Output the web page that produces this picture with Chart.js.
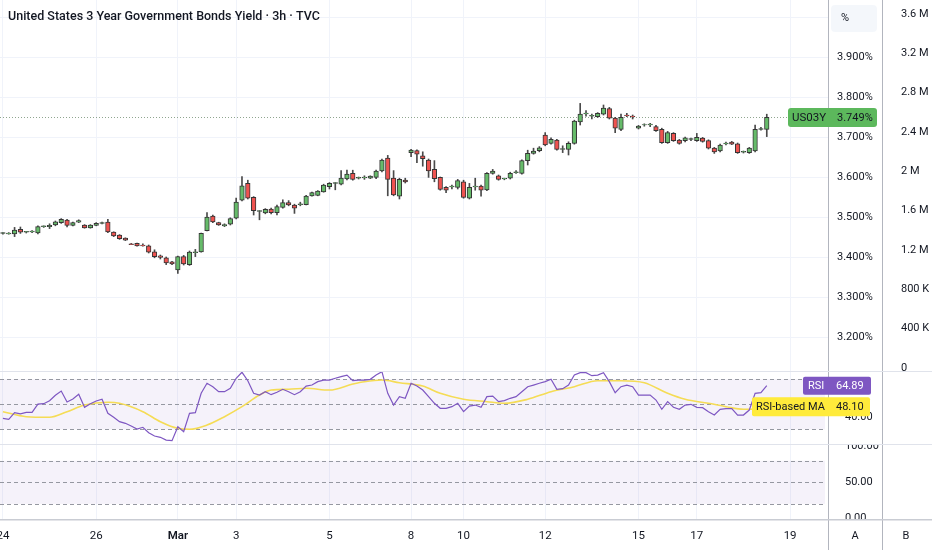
<!DOCTYPE html>
<html>
<head>
<meta charset="utf-8">
<title>US03Y 3h</title>
<script src="https://cdn.jsdelivr.net/npm/chart.js@4.4.1/dist/chart.umd.min.js"></script>
<style>
  html, body { margin: 0; padding: 0; background: #ffffff; }
  #wrap { position: relative; width: 932px; height: 550px; overflow: hidden; }
  .pane { position: absolute; left: 0; width: 932px; }
</style>
</head>
<body>
<div id="wrap">
  <div class="pane" style="top:0;height:371px"><canvas id="mainChart"></canvas></div>
  <div class="pane" style="top:371px;height:73px"><canvas id="rsiChart"></canvas></div>
  <div class="pane" style="top:444px;height:106px"><canvas id="lowChart"></canvas></div>
</div>
<script>
// ---- data (3h bars, 132 candles) ----
const opens = [
  3.459, 3.458, 3.458, 3.469, 3.462, 3.463, 3.460, 3.476, 3.476, 3.480,
  3.486, 3.492, 3.479, 3.487, 3.480, 3.473, 3.479, 3.484, 3.487, 3.462,
  3.455, 3.447, 3.433, 3.434, 3.430, 3.428, 3.413, 3.403, 3.398, 3.388,
  3.368, 3.401, 3.381, 3.411, 3.413, 3.466, 3.502, 3.486, 3.478, 3.482,
  3.497, 3.542, 3.584, 3.549, 3.514, 3.510, 3.520, 3.511, 3.524, 3.536,
  3.530, 3.531, 3.531, 3.553, 3.554, 3.563, 3.576, 3.584, 3.582, 3.595,
  3.609, 3.597, 3.598, 3.597, 3.599, 3.615, 3.647, 3.597, 3.552, 3.592,
  3.661, 3.666, 3.653, 3.642, 3.619, 3.599, 3.574, 3.575, 3.574, 3.588,
  3.547, 3.575, 3.577, 3.568, 3.609, 3.603, 3.595, 3.597, 3.611, 3.609,
  3.641, 3.659, 3.666, 3.705, 3.684, 3.692, 3.669, 3.669, 3.684, 3.738,
  3.758, 3.752, 3.751, 3.757, 3.771, 3.747, 3.719, 3.755, 3.752, 3.722,
  3.730, 3.730, 3.726, 3.719, 3.686, 3.709, 3.692, 3.691, 3.694, 3.691,
  3.697, 3.691, 3.672, 3.665, 3.683, 3.687, 3.683, 3.662, 3.661, 3.665,
  3.719, 3.719
];
const highs = [
  3.461, 3.461, 3.474, 3.475, 3.464, 3.466, 3.478, 3.478, 3.483, 3.490,
  3.496, 3.494, 3.487, 3.493, 3.481, 3.481, 3.486, 3.487, 3.494, 3.463,
  3.456, 3.448, 3.434, 3.435, 3.433, 3.430, 3.418, 3.405, 3.400, 3.389,
  3.402, 3.404, 3.415, 3.419, 3.460, 3.511, 3.505, 3.487, 3.483, 3.498,
  3.547, 3.601, 3.592, 3.551, 3.516, 3.521, 3.522, 3.530, 3.543, 3.541,
  3.532, 3.537, 3.554, 3.562, 3.566, 3.582, 3.586, 3.586, 3.616, 3.617,
  3.617, 3.600, 3.603, 3.603, 3.617, 3.645, 3.654, 3.616, 3.597, 3.597,
  3.669, 3.668, 3.663, 3.645, 3.641, 3.600, 3.576, 3.580, 3.594, 3.592,
  3.584, 3.597, 3.580, 3.611, 3.619, 3.605, 3.597, 3.612, 3.616, 3.643,
  3.667, 3.672, 3.676, 3.711, 3.698, 3.694, 3.678, 3.688, 3.742, 3.784,
  3.766, 3.757, 3.761, 3.780, 3.774, 3.749, 3.757, 3.759, 3.755, 3.729,
  3.733, 3.734, 3.729, 3.722, 3.714, 3.711, 3.694, 3.700, 3.697, 3.709,
  3.699, 3.693, 3.674, 3.682, 3.687, 3.689, 3.685, 3.665, 3.674, 3.730,
  3.724, 3.757
];
const lows = [
  3.457, 3.457, 3.451, 3.459, 3.460, 3.461, 3.458, 3.474, 3.471, 3.478,
  3.484, 3.475, 3.478, 3.486, 3.472, 3.472, 3.478, 3.483, 3.461, 3.451,
  3.444, 3.441, 3.431, 3.427, 3.427, 3.410, 3.398, 3.395, 3.381, 3.381,
  3.359, 3.380, 3.379, 3.401, 3.412, 3.465, 3.486, 3.479, 3.476, 3.480,
  3.495, 3.540, 3.545, 3.505, 3.493, 3.508, 3.508, 3.505, 3.522, 3.528,
  3.509, 3.528, 3.530, 3.552, 3.553, 3.562, 3.570, 3.568, 3.580, 3.593,
  3.592, 3.595, 3.594, 3.596, 3.596, 3.613, 3.553, 3.553, 3.545, 3.585,
  3.651, 3.636, 3.627, 3.599, 3.588, 3.567, 3.561, 3.570, 3.570, 3.547,
  3.545, 3.567, 3.552, 3.566, 3.607, 3.592, 3.593, 3.595, 3.609, 3.607,
  3.630, 3.657, 3.663, 3.678, 3.682, 3.667, 3.661, 3.655, 3.682, 3.730,
  3.752, 3.745, 3.749, 3.755, 3.745, 3.711, 3.716, 3.751, 3.745, 3.720,
  3.727, 3.726, 3.714, 3.684, 3.684, 3.689, 3.682, 3.688, 3.691, 3.689,
  3.687, 3.670, 3.659, 3.663, 3.680, 3.681, 3.659, 3.660, 3.659, 3.663,
  3.717, 3.701
];
const closes = [
  3.461, 3.460, 3.467, 3.462, 3.464, 3.465, 3.476, 3.478, 3.479, 3.488,
  3.494, 3.479, 3.486, 3.491, 3.473, 3.480, 3.484, 3.486, 3.463, 3.453,
  3.446, 3.442, 3.431, 3.428, 3.428, 3.412, 3.401, 3.399, 3.385, 3.383,
  3.401, 3.383, 3.412, 3.413, 3.459, 3.500, 3.488, 3.480, 3.481, 3.496,
  3.537, 3.578, 3.547, 3.516, 3.516, 3.519, 3.511, 3.526, 3.536, 3.530,
  3.522, 3.533, 3.552, 3.561, 3.565, 3.580, 3.584, 3.586, 3.597, 3.607,
  3.594, 3.599, 3.600, 3.602, 3.615, 3.642, 3.594, 3.555, 3.594, 3.588,
  3.667, 3.657, 3.646, 3.615, 3.596, 3.569, 3.567, 3.577, 3.591, 3.549,
  3.574, 3.577, 3.567, 3.609, 3.615, 3.594, 3.597, 3.609, 3.613, 3.641,
  3.659, 3.665, 3.673, 3.680, 3.694, 3.669, 3.671, 3.684, 3.740, 3.757,
  3.760, 3.754, 3.759, 3.772, 3.747, 3.722, 3.749, 3.753, 3.750, 3.727,
  3.731, 3.732, 3.716, 3.686, 3.711, 3.691, 3.684, 3.698, 3.696, 3.699,
  3.689, 3.672, 3.663, 3.680, 3.685, 3.682, 3.661, 3.664, 3.672, 3.719,
  3.721, 3.749
];

const rsiValues = [
  38.8, 38.0, 43.3, 42.3, 43.6, 43.6, 50.2, 50.5, 52.9, 57.2,
  60.6, 51.8, 54.2, 58.0, 47.6, 50.5, 52.6, 54.0, 42.8, 39.6,
  36.1, 34.8, 32.6, 30.2, 31.6, 27.3, 24.6, 23.6, 21.4, 20.9,
  32.1, 28.1, 42.8, 43.3, 58.8, 66.8, 64.1, 60.1, 60.1, 62.8,
  70.8, 75.6, 68.9, 58.8, 57.4, 60.1, 57.7, 59.6, 62.0, 60.1,
  57.7, 60.1, 64.6, 65.4, 68.1, 69.4, 69.4, 70.8, 72.1, 73.4,
  68.9, 69.4, 69.4, 70.0, 73.4, 76.1, 58.8, 49.4, 56.1, 54.8,
  66.8, 64.6, 61.4, 56.1, 50.8, 46.8, 46.8, 48.1, 50.8, 44.1,
  48.6, 49.4, 47.6, 56.1, 56.6, 52.1, 52.9, 54.8, 56.1, 60.1,
  64.1, 65.4, 66.8, 68.1, 70.0, 62.0, 62.5, 65.4, 73.4, 75.3,
  75.3, 72.9, 73.4, 75.3, 68.1, 59.3, 64.1, 65.4, 64.1, 57.4,
  57.4, 57.4, 53.4, 46.0, 52.1, 47.6, 46.0, 49.4, 50.0, 47.6,
  47.3, 44.1, 41.4, 46.0, 46.5, 46.5, 41.4, 41.4, 45.4, 58.8,
  59.3, 64.89
];
// RSI-based MA, read at these bar positions
const maIndex = [0, 4, 8, 11, 14, 18, 20, 24, 27, 30, 32, 35, 38, 41, 44, 46, 49, 52, 56, 60,
  62, 65, 68, 72, 75, 79, 83, 86, 90, 94, 98, 102, 106, 110, 114, 117, 121, 124, 127, 129, 131];
const maValues = [44.1, 40.1, 39.6, 44.1, 49.4, 51.6, 50.8, 44.1, 36.1, 30.8, 30.0, 33.4, 40.1, 48.1, 57.4, 61.4, 62.0, 62.8, 61.4, 66.2,
  68.1, 69.4, 67.3, 64.6, 58.8, 54.0, 52.1, 50.8, 54.0, 60.1, 64.1, 68.9, 68.9, 67.3, 58.8, 54.0, 50.8, 48.1, 46.0, 46.2, 48.1];

// x axis: 142 bar slots across the pane, dates shown at these slots
const slotCount = 142;
const dateSlots = [0, 16, 30, 40, 56, 70, 79, 93, 109, 119, 135];
const dateText = ['24', '26', 'Mar', '3', '5', '8', '10', '12', '15', '17', '19'];

const priceTicks = [3.2, 3.3, 3.4, 3.5, 3.6, 3.7, 3.8, 3.9, 4.0];
const volTicks = [0, 400000, 800000, 1200000, 1600000, 2000000, 2400000, 2800000, 3200000, 3600000];
const volText = ['0', '400 K', '800 K', '1.2 M', '1.6 M', '2 M', '2.4 M', '2.8 M', '3.2 M', '3.6 M'];
const rsiTicks = [40];
const lowTicks = [0, 50, 100];
const lowText = ['0.00', '50.00', '100.00'];

const lastPrice = 3.749;
const lastRsi = 64.89;
const lastMa = 48.10;

// ---- styling ----
const FONT = "Roboto, 'Noto Sans', sans-serif";
const TEXT = '#131722';
const GRID = '#f0f3fa';
const SEP = '#e0e3eb';
const AXIS_SEP = '#b2b5be';
const UP = '#66bb6a';
const DOWN = '#ef5350';
const CANDLE_EDGE = '#353535';
const RSI_COLOR = '#7e57c2';
const MA_COLOR = '#f5dc55';
const BAND = 'rgba(126, 87, 194, 0.08)';

const slotLabels = Array.from({ length: slotCount }, () => '');
dateSlots.forEach((k, j) => { slotLabels[k] = dateText[j]; });

const maSeries = Array.from({ length: closes.length }, () => null);
maIndex.forEach((k, j) => { maSeries[k] = maValues[j]; });

function xScale(showLabels) {
  return {
    type: 'category',
    labels: slotLabels,
    offset: true,
    border: { display: false },
    grid: {
      offset: false,
      drawTicks: false,
      color: (c) => (slotLabels[c.index] ? GRID : 'rgba(0,0,0,0)'),
    },
    ticks: {
      display: showLabels,
      autoSkip: false,
      maxRotation: 0,
      padding: 10,
      color: TEXT,
      font: (c) => ({ family: FONT, size: 11.5, weight: slotLabels[c.index] === 'Mar' ? '600' : '400' }),
      callback: (v, i) => slotLabels[i],
    },
    afterFit: (s) => {
      s.height = showLabels ? 31 : 0;
      s.paddingLeft = 0;
      s.paddingRight = 0;
    },
  };
}

function fixedTicks(values) {
  return (s) => { s.ticks = values.map((v) => ({ value: v })); };
}

function noPad(width) {
  return (s) => { s.width = width; s.paddingTop = 0; s.paddingBottom = 0; };
}

function box(ctx, x, y, w, h, fill, r) {
  ctx.fillStyle = fill;
  ctx.beginPath();
  if (ctx.roundRect) ctx.roundRect(x, y, w, h, r); else ctx.rect(x, y, w, h);
  ctx.fill();
}

function separators(ctx, h) {
  ctx.save();
  ctx.strokeStyle = AXIS_SEP;
  ctx.lineWidth = 1;
  ctx.beginPath();
  ctx.moveTo(828.5, 0); ctx.lineTo(828.5, h);
  ctx.moveTo(882.5, 0); ctx.lineTo(882.5, h);
  ctx.stroke();
  ctx.restore();
}

function bandAndLevels(chart, lo, mid, hi) {
  const { ctx, chartArea } = chart;
  const y = chart.scales.y;
  ctx.save();
  ctx.fillStyle = BAND;
  ctx.fillRect(chartArea.left, y.getPixelForValue(hi), chartArea.right - chartArea.left - 3,
    y.getPixelForValue(lo) - y.getPixelForValue(hi));
  ctx.strokeStyle = '#9598a1';
  ctx.lineWidth = 1;
  ctx.setLineDash([4, 3]);
  [lo, mid, hi].forEach((v) => {
    const py = Math.round(y.getPixelForValue(v)) + 0.5;
    ctx.beginPath();
    ctx.moveTo(chartArea.left, py);
    ctx.lineTo(chartArea.right - 3, py);
    ctx.stroke();
  });
  ctx.restore();
}

const common = {
  responsive: true,
  maintainAspectRatio: false,
  animation: false,
  events: [],
  plugins: { legend: { display: false }, tooltip: { enabled: false } },
};

// ---- main price pane ----
const mainPlugin = {
  id: 'mainDecor',
  beforeDatasetsDraw(chart) {
    const { ctx } = chart;
    const py = Math.round(chart.scales.y.getPixelForValue(lastPrice)) + 0.5;
    ctx.save();
    ctx.strokeStyle = '#8fa58f';
    ctx.lineWidth = 1;
    ctx.setLineDash([1, 2]);
    ctx.beginPath();
    ctx.moveTo(0, py);
    ctx.lineTo(788, py);
    ctx.stroke();
    ctx.restore();
  },
  afterDraw(chart) {
    const { ctx } = chart;
    separators(ctx, chart.height);
    ctx.save();
    ctx.textBaseline = 'middle';
    ctx.fillStyle = TEXT;
    ctx.font = '500 12.5px ' + FONT;
    ctx.fillText('United States 3 Year Government Bonds Yield \u00b7 3h \u00b7 TVC', 8, 17);

    box(ctx, 831, 5, 46, 27, 'rgba(240,243,250,0.7)', 4);
    ctx.fillStyle = TEXT;
    ctx.font = '11px ' + FONT;
    ctx.fillText('%', 841, 18);

    const cy = chart.scales.y.getPixelForValue(lastPrice);
    box(ctx, 788, cy - 9.5, 89, 19, '#5cb85c', 3);
    ctx.fillStyle = TEXT;
    ctx.font = '11.5px ' + FONT;
    ctx.fillText('US03Y', 792, cy + 0.5);
    ctx.font = '11px ' + FONT;
    ctx.fillText(lastPrice.toFixed(3) + '%', 837, cy + 0.5);
    ctx.restore();
  },
};

new Chart(document.getElementById('mainChart'), {
  type: 'bar',
  data: {
    labels: slotLabels,
    datasets: [
      {
        label: 'body',
        data: opens.map((o, i) => [o, closes[i]]),
        backgroundColor: opens.map((o, i) => (closes[i] >= o ? UP : DOWN)),
        borderColor: CANDLE_EDGE,
        borderWidth: 1,
        borderSkipped: false,
        barThickness: 4.6,
        grouped: false,
        order: 1,
        yAxisID: 'y',
      },
      {
        label: 'wick',
        data: lows.map((l, i) => [l, highs[i]]),
        backgroundColor: '#4a4a4a',
        borderWidth: 0,
        barThickness: 1,
        grouped: false,
        order: 2,
        yAxisID: 'y',
      },
    ],
  },
  options: {
    ...common,
    layout: { padding: 0 },
    scales: {
      x: xScale(false),
      y: {
        type: 'linear',
        position: 'right',
        weight: 0,
        min: 3.115,
        max: 4.0425,
        border: { display: false },
        grid: { color: GRID, drawTicks: false },
        afterBuildTicks: fixedTicks(priceTicks),
        ticks: {
          padding: 9,
          color: TEXT,
          font: { family: FONT, size: 11 },
          callback: (v) => (v >= 3.95 ? '' : v.toFixed(3) + '%'),
        },
        afterFit: noPad(54),
      },
      yVol: {
        type: 'linear',
        position: 'right',
        weight: 1,
        min: -30500,
        max: 3742400,
        border: { display: false },
        grid: { display: false },
        afterBuildTicks: fixedTicks(volTicks),
        ticks: {
          padding: 11,
          color: TEXT,
          font: { family: FONT, size: 11 },
          callback: (v, i) => volText[i],
        },
        afterFit: noPad(50),
      },
    },
  },
  plugins: [mainPlugin],
});

// ---- RSI pane ----
const rsiPlugin = {
  id: 'rsiDecor',
  beforeDatasetsDraw(chart) { bandAndLevels(chart, 30, 50, 70); },
  afterDraw(chart) {
    const { ctx } = chart;
    const y = chart.scales.y;
    separators(ctx, chart.height);
    ctx.save();
    ctx.fillStyle = SEP;
    ctx.fillRect(0, 0, chart.width, 1);
    ctx.textBaseline = 'middle';
    ctx.font = '11px ' + FONT;

    const ry = y.getPixelForValue(lastRsi);
    box(ctx, 803, ry - 9, 68, 18, RSI_COLOR, 2);
    ctx.fillStyle = '#ffffff';
    ctx.fillText('RSI', 808, ry + 0.5);
    ctx.fillText(lastRsi.toFixed(2), 836, ry + 0.5);

    const my = y.getPixelForValue(lastMa);
    box(ctx, 752, my - 9.5, 118, 19, '#ffeb3b', 2);
    ctx.fillStyle = TEXT;
    ctx.fillText('RSI-based MA', 756, my + 0.5);
    ctx.fillText(lastMa.toFixed(2), 836, my + 0.5);
    ctx.restore();
  },
};

new Chart(document.getElementById('rsiChart'), {
  type: 'line',
  data: {
    labels: slotLabels,
    datasets: [
      {
        label: 'RSI',
        data: rsiValues,
        borderColor: RSI_COLOR,
        borderWidth: 1.2,
        pointRadius: 0,
        tension: 0,
      },
      {
        label: 'RSI-based MA',
        data: maSeries,
        spanGaps: true,
        cubicInterpolationMode: 'monotone',
        borderColor: MA_COLOR,
        borderWidth: 1.6,
        pointRadius: 0,
      },
    ],
  },
  options: {
    ...common,
    layout: { padding: { right: 50 } },
    scales: {
      x: xScale(false),
      y: {
        type: 'linear',
        position: 'right',
        min: 18.24,
        max: 76.64,
        border: { display: false },
        grid: { display: false },
        afterBuildTicks: fixedTicks(rsiTicks),
        ticks: {
          padding: 9,
          color: TEXT,
          font: { family: FONT, size: 11 },
          callback: (v) => v.toFixed(2),
        },
        afterFit: noPad(54),
      },
    },
  },
  plugins: [rsiPlugin],
});

// ---- lower empty pane with the date axis ----
const lowPlugin = {
  id: 'lowDecor',
  beforeDatasetsDraw(chart) { bandAndLevels(chart, 20, 50, 80); },
  afterDraw(chart) {
    const { ctx, chartArea } = chart;
    const axisTop = Math.round(chartArea.bottom);
    ctx.save();
    ctx.fillStyle = '#ffffff';
    ctx.fillRect(829, axisTop, 103, chart.height - axisTop);
    separators(ctx, chart.height);
    ctx.fillStyle = SEP;
    ctx.fillRect(0, 0, chart.width, 1);
    ctx.fillStyle = '#c9ccd3';
    ctx.fillRect(0, axisTop, chart.width, 1.5);
    ctx.fillStyle = TEXT;
    ctx.textBaseline = 'middle';
    ctx.textAlign = 'center';
    ctx.font = '11px ' + FONT;
    ctx.fillText('A', 855, 92);
    ctx.fillText('B', 906, 92);
    ctx.restore();
  },
};

new Chart(document.getElementById('lowChart'), {
  type: 'line',
  data: { labels: slotLabels, datasets: [] },
  options: {
    ...common,
    layout: { padding: { right: 50 } },
    scales: {
      x: xScale(true),
      y: {
        type: 'linear',
        position: 'right',
        min: -0.97,
        max: 103.2,
        border: { display: false },
        grid: { display: false },
        afterBuildTicks: fixedTicks(lowTicks),
        ticks: {
          padding: 9,
          color: TEXT,
          font: { family: FONT, size: 11 },
          callback: (v, i) => lowText[i],
        },
        afterFit: noPad(54),
      },
    },
  },
  plugins: [lowPlugin],
});
</script>
</body>
</html>
